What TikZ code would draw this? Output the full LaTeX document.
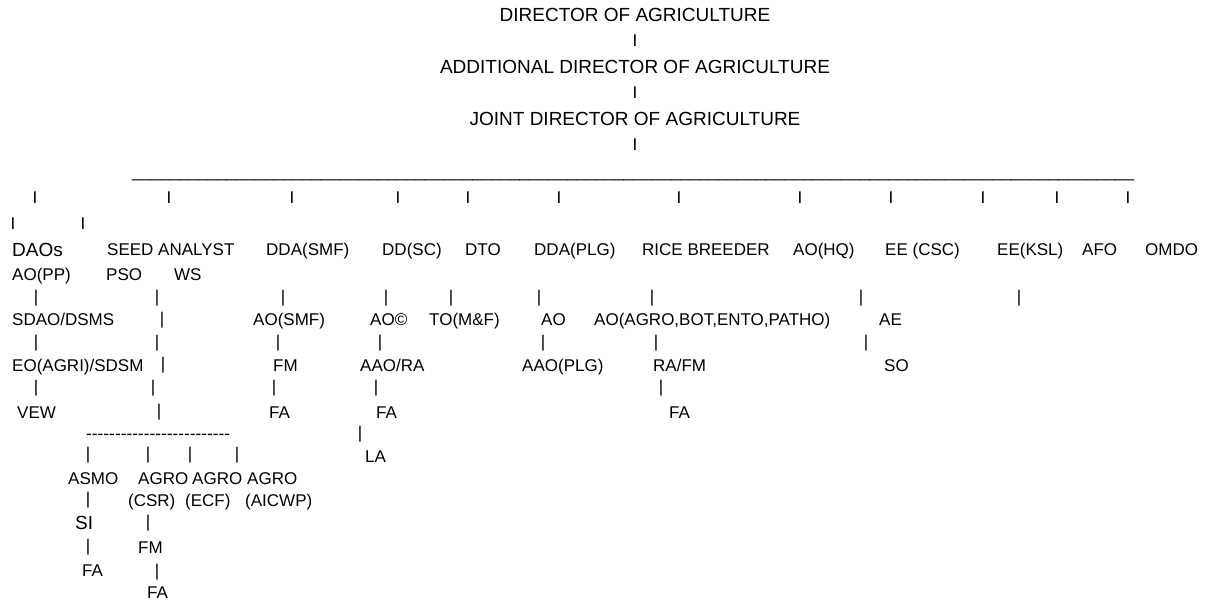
\documentclass[tikz,border=0pt]{standalone}
\usepackage{fontspec}
\setmainfont{Liberation Sans}
\usepackage{tikz}

\begin{document}
\begin{tikzpicture}[x=1pt,y=-1pt,
    lbl/.style={inner sep=0pt,anchor=west,text height=12pt,text depth=0pt,font=\fontsize{17}{17}\selectfont},
    head/.style={inner sep=0pt,text height=13.5pt,text depth=0pt,font=\fontsize{19}{19}\selectfont},
    bar/.style={inner sep=0pt,text height=12pt,text depth=0pt,font=\fontsize{17}{17}\selectfont}]
  \useasboundingbox (0,0) rectangle (1211,604);

  % top of the chart
  \node[head] (dir) at (635,15) {DIRECTOR OF AGRICULTURE};
  \node[bar] (dir-bar) at (635,41) {I};
  \node[head] (adddir) at (635,67) {ADDITIONAL DIRECTOR OF AGRICULTURE};
  \node[bar] (adddir-bar) at (635,93) {I};
  \node[head] (jointdir) at (635,119) {JOINT DIRECTOR OF AGRICULTURE};
  \node[bar] (jointdir-bar) at (635,145) {I};
  \node[inner sep=0pt,anchor=base west,font=\fontsize{17}{17}\selectfont] (bus) at (132,178)
    {\foreach \k in {1,...,106}{\_}};
  \foreach \x [count=\i] in {35,169,292,398,468,559,679,800,891,983,1057,1128}
    \node[bar] (drop-\i) at (\x,198) {I};
  \node[bar] (drop-a) at (13,224) {I};
  \node[bar] (drop-b) at (83,224) {I};

  % second level
  \node[lbl,font=\fontsize{19}{19}\selectfont,text height=13.5pt] (daos) at (12,250) {DAOs};
  \node[lbl] (seed) at (107,250) {SEED ANALYST};
  \node[lbl] (ddasmf) at (266,250) {DDA(SMF)};
  \node[lbl] (ddsc) at (382,250) {DD(SC)};
  \node[lbl] (dto) at (465,250) {DTO};
  \node[lbl] (ddaplg) at (534,250) {DDA(PLG)};
  \node[lbl] (rice) at (642,250) {RICE BREEDER};
  \node[lbl] (aohq) at (793,250) {AO(HQ)};
  \node[lbl] (eecsc) at (885,250) {EE (CSC)};
  \node[lbl] (eeksl) at (997,250) {EE(KSL)};
  \node[lbl] (afo) at (1082,250) {AFO};
  \node[lbl] (omdo) at (1145,250) {OMDO};
  \node[lbl] (aopp) at (12,274) {AO(PP)};
  \node[lbl] (pso) at (106,274) {PSO};
  \node[lbl] (ws) at (174,274) {WS};

  % third level and below
  \foreach \x [count=\i] in {36,157,283,386,451,539,652,861,1019}
    \node[bar] (up-\i) at (\x,296.5) {|};
  \node[lbl] (sdao) at (12,320) {SDAO/DSMS};
  \node[bar] (seed-b1) at (162,318.5) {|};
  \node[lbl] (aosmf) at (253,320) {AO(SMF)};
  \node[lbl] (aoc) at (370,320) {AO©};
  \node[lbl] (tomf) at (429,320) {TO(M\&F)};
  \node[lbl] (ao) at (541,320) {AO};
  \node[lbl] (aoagro) at (594,320) {AO(AGRO,BOT,ENTO,PATHO)};
  \node[lbl] (ae) at (879,320) {AE};
  \foreach \x [count=\i] in {36,157,278,380,543,656,866}
    \node[bar] (mid-\i) at (\x,341.5) {|};
  \node[lbl] (eoagri) at (12,365) {EO(AGRI)/SDSM};
  \node[bar] (seed-b2) at (163,363.5) {|};
  \node[lbl] (fm-smf) at (273,365) {FM};
  \node[lbl] (aaora) at (360,365) {AAO/RA};
  \node[lbl] (aaoplg) at (522,365) {AAO(PLG)};
  \node[lbl] (rafm) at (653,365) {RA/FM};
  \node[lbl] (so) at (884,365) {SO};
  \foreach \x [count=\i] in {36,153,274,376,661}
    \node[bar] (low-\i) at (\x,386.5) {|};
  \node[lbl] (vew) at (17,412) {VEW};
  \node[bar] (seed-b3) at (159,410.5) {|};
  \node[lbl] (fa-smf) at (269,412) {FA};
  \node[lbl] (fa-sc) at (376,412) {FA};
  \node[lbl] (fa-rice) at (669,412) {FA};
  \node[inner sep=0pt,anchor=west,text height=12pt,text depth=0pt,font=\fontsize{17.3}{17}\selectfont] (dashes) at (86,433)
    {\foreach \k in {1,...,25}{-}};
  \node[bar] (sc-b) at (360,432.5) {|};
  \node[lbl] (la) at (365,456) {LA};

  % seed analyst branch
  \foreach \x [count=\i] in {88,148,190,237}
    \node[bar] (seed-\i) at (\x,453.5) {|};
  \node[lbl] (asmo) at (68,478) {ASMO};
  \node[lbl] (agro-a) at (138,478) {AGRO};
  \node[lbl] (agro-b) at (192,478) {AGRO};
  \node[lbl] (agro-c) at (247,478) {AGRO};
  \node[bar] (asmo-b1) at (88,498.5) {|};
  \node[lbl] (csr) at (128,500) {(CSR)};
  \node[lbl] (ecf) at (185,500) {(ECF)};
  \node[lbl] (aicwp) at (245,500) {(AICWP)};
  \node[lbl,font=\fontsize{19}{19}\selectfont,text height=13.5pt] (si) at (75,523) {SI};
  \node[bar] (csr-b1) at (148,521.5) {|};
  \node[bar] (asmo-b2) at (88,545.5) {|};
  \node[lbl] (fm-csr) at (138,547) {FM};
  \node[lbl] (fa-asmo) at (82,570) {FA};
  \node[bar] (csr-b2) at (157,570.5) {|};
  \node[lbl] (fa-csr) at (147,592) {FA};
\end{tikzpicture}
\end{document}
